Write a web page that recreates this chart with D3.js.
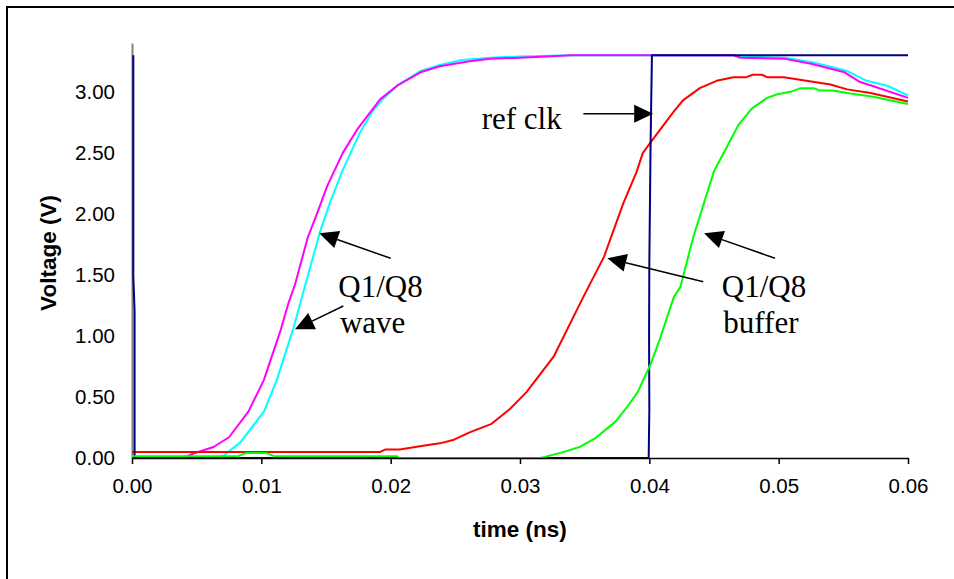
<!DOCTYPE html>
<html><head><meta charset="utf-8">
<script src="https://cdn.jsdelivr.net/npm/d3@7"></script>
<style>html,body{margin:0;padding:0;background:#fff;overflow:hidden}</style>
</head><body>
<svg id="chart" width="954" height="579"></svg>
<script>
// ---- data (time in ns, voltage in V) ----
const xTicks = [0, 0.01, 0.02, 0.03, 0.04, 0.05, 0.06];
const yTicks = [0, 0.5, 1.0, 1.5, 2.0, 2.5, 3.0];

const waveMagenta = [[0,0],[0.004,0.0],[0.0047,0.035],[0.0063,0.09],[0.0075,0.17],[0.009,0.38],[0.0102,0.64],[0.0115,1.05],[0.0121,1.27],[0.0126,1.42],[0.0136,1.81],[0.0143,2.0],[0.0151,2.23],[0.0163,2.50],[0.0174,2.69],[0.0179,2.76],[0.0192,2.94],[0.0205,3.05],[0.0223,3.16],[0.0238,3.21],[0.0261,3.25],[0.0277,3.27],[0.030,3.28],[0.034,3.3],[0.0465,3.3],[0.047,3.28],[0.0505,3.27],[0.0525,3.23],[0.0551,3.16],[0.0563,3.08],[0.0575,3.04],[0.06,2.95]];
const waveCyan = [[0,0],[0.0065,0.0],[0.0071,0.02],[0.0084,0.13],[0.0102,0.38],[0.0112,0.64],[0.0125,1.07],[0.0133,1.38],[0.0145,1.84],[0.0153,2.09],[0.0163,2.36],[0.0176,2.66],[0.0186,2.84],[0.0194,2.94],[0.0205,3.05],[0.0223,3.17],[0.0238,3.22],[0.0255,3.26],[0.0277,3.28],[0.030,3.29],[0.034,3.3],[0.0465,3.3],[0.047,3.29],[0.0505,3.28],[0.0527,3.24],[0.0553,3.17],[0.0568,3.09],[0.0584,3.05],[0.06,2.97]];
const bufferRed = [[0,0.05],[0.0192,0.05],[0.0196,0.07],[0.0207,0.07],[0.0225,0.10],[0.0238,0.12],[0.0249,0.15],[0.0261,0.21],[0.0278,0.28],[0.0292,0.40],[0.0305,0.54],[0.0326,0.83],[0.0349,1.32],[0.0365,1.65],[0.038,2.09],[0.039,2.34],[0.0395,2.50],[0.0402,2.60],[0.0414,2.77],[0.0419,2.84],[0.0426,2.93],[0.0439,3.03],[0.0452,3.09],[0.0465,3.12],[0.0475,3.12],[0.048,3.14],[0.0487,3.14],[0.0491,3.12],[0.0504,3.12],[0.054,3.06],[0.0553,3.02],[0.0571,2.99],[0.06,2.92]];
const bufferGreen = [[0,0.015],[0.0082,0.015],[0.0088,0.04],[0.0104,0.04],[0.011,0.015],[0.0205,0.015],[0.0206,0],[0.0316,0],[0.0334,0.05],[0.0346,0.09],[0.0358,0.16],[0.0374,0.30],[0.0383,0.42],[0.0391,0.54],[0.0401,0.77],[0.0408,0.97],[0.0419,1.32],[0.0424,1.40],[0.0434,1.81],[0.045,2.35],[0.0469,2.73],[0.0479,2.86],[0.0491,2.95],[0.0499,2.98],[0.0509,3.0],[0.0517,3.03],[0.0527,3.03],[0.0532,3.01],[0.0542,3.01],[0.0553,2.99],[0.0573,2.96],[0.06,2.9]];
const refClk = [[0.0001,3.3],[0.0001,1.5],[0.0002,1.2],[0.0002,0],[0.03995,0],[0.04,0.4],[0.03998,1.0],[0.04,1.6],[0.0401,2.6],[0.0402,3.3],[0.06,3.3]];

// annotations in data coordinates: [fromT, fromV, toT, toV]
const arrows = [
  [0.0349, 2.82, 0.0403, 2.82],
  [0.0200, 1.636, 0.01448, 1.841],
  [0.01634, 1.245, 0.0126, 1.054],
  [0.04417, 1.444, 0.03675, 1.636],
  [0.04972, 1.636, 0.04423, 1.841]
];
const labels = [
  ["ref clk", 0.02704, 2.695],
  ["Q1/Q8", 0.01595, 1.321],
  ["wave", 0.01608, 1.022],
  ["Q1/Q8", 0.0456, 1.321],
  ["buffer", 0.04572, 1.022]
];

// ---- drawing ----
const svg = d3.select("#chart");
const x = d3.scaleLinear().domain([0, 0.06]).range([132, 908]);
const y = d3.scaleLinear().domain([0, 3.4]).range([458, 43]);

svg.append("rect").attr("x", 7).attr("y", 7).attr("width", 980).attr("height", 620)
  .attr("fill", "none").attr("stroke", "#000").attr("stroke-width", 2);

// y axis
const gy = svg.append("g").attr("transform", "translate(132,0)")
  .call(d3.axisLeft(y).tickValues(yTicks).tickFormat(d3.format(".2f")).tickSize(0).tickPadding(17));
gy.select(".domain").attr("stroke", "#808080").attr("stroke-width", 2);
gy.selectAll("text").attr("font-family", "Liberation Sans, Arial, sans-serif").attr("font-size", "20.5px").attr("fill", "#000");

// series
const line = d3.line().x(d => x(d[0])).y(d => y(d[1]));
const series = [
  [waveCyan, "#00ffff"],
  [waveMagenta, "#ff00ff"],
  [bufferRed, "#ff0000"],
  [refClk, "#000080"],
  [bufferGreen, "#00ff00"]
];
series.forEach(([data, color]) => {
  svg.append("path").datum(data).attr("d", line).attr("fill", "none")
    .attr("stroke", color).attr("stroke-width", 2).attr("stroke-linejoin", "round");
});

// x axis
const gx = svg.append("g").attr("transform", "translate(0,458)")
  .call(d3.axisBottom(x).tickValues(xTicks).tickFormat(d3.format(".2f")).tickSizeInner(6).tickSizeOuter(0).tickPadding(14));
gx.select(".domain").attr("stroke", "#000").attr("stroke-width", 1.5);
gx.selectAll(".tick line").attr("stroke", "#000").attr("stroke-width", 1.5);
gx.selectAll("text").attr("font-family", "Liberation Sans, Arial, sans-serif").attr("font-size", "20.5px").attr("fill", "#000");

// axis titles
svg.append("text").attr("x", 520).attr("y", 537).attr("text-anchor", "middle")
  .attr("font-family", "Liberation Sans, Arial, sans-serif").attr("font-weight", "bold").attr("font-size", "22.5px")
  .text("time (ns)");
svg.append("text").attr("transform", "translate(56,253) rotate(-90)").attr("text-anchor", "middle")
  .attr("font-family", "Liberation Sans, Arial, sans-serif").attr("font-weight", "bold").attr("font-size", "22.5px")
  .text("Voltage (V)");

// annotations
arrows.forEach(([t0, v0, t1, v1]) => {
  const x0 = x(t0), y0 = y(v0), x1 = x(t1), y1 = y(v1);
  const dx = x1 - x0, dy = y1 - y0, len = Math.hypot(dx, dy);
  const ux = dx / len, uy = dy / len, L = 19, W = 9;
  const bx = x1 - ux * L, by = y1 - uy * L;
  svg.append("line").attr("x1", x0).attr("y1", y0).attr("x2", bx).attr("y2", by)
    .attr("stroke", "#000").attr("stroke-width", 1.5);
  svg.append("path").attr("d", `M${x1},${y1}L${bx - uy * W},${by + ux * W}L${bx + uy * W},${by - ux * W}Z`)
    .attr("fill", "#000");
});
labels.forEach(([txt, t, v]) => {
  svg.append("text").attr("x", x(t)).attr("y", y(v))
    .attr("font-family", "Liberation Serif, Times New Roman, serif").attr("font-size", "31px").attr("fill", "#000")
    .text(txt);
});
</script>
</body></html>
